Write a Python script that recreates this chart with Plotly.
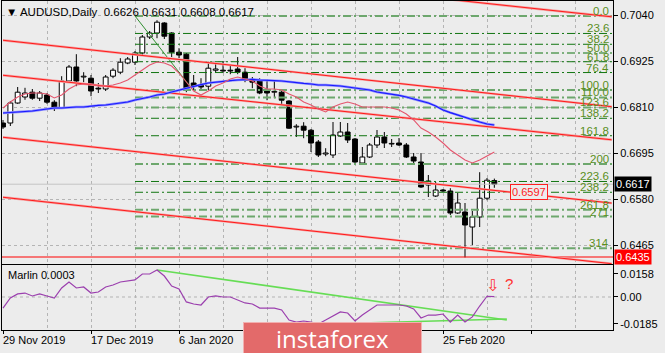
import plotly.graph_objects as go

# ---------------- data ----------------
tick_idx = [0, 12, 24, 60]
tick_labels = ["29 Nov 2019", "17 Dec 2019", "6 Jan 2020", "25 Feb 2020"]
grid_tick_idx = [0, 12, 24, 36, 48, 60, 72]

opens = [0.6770, 0.6770, 0.6820, 0.6835, 0.6847, 0.6832, 0.6840, 0.6822, 0.6807, 0.6875,
         0.6910, 0.6885, 0.6882, 0.6857, 0.6855, 0.6887, 0.6897, 0.6920, 0.6922, 0.6945,
         0.6985, 0.6995, 0.7020, 0.6995, 0.6947, 0.6942, 0.6870, 0.6865, 0.6862, 0.6902,
         0.6902, 0.6902, 0.6905, 0.6897, 0.6877, 0.6875, 0.6850, 0.6847, 0.6847, 0.6825,
         0.6760, 0.6762, 0.6752, 0.67225, 0.66925, 0.6690, 0.67375, 0.67475, 0.6730, 0.6670,
         0.6685, 0.6715, 0.6735, 0.67175, 0.6720, 0.6715, 0.6685, 0.66725, 0.6615, 0.65875,
         0.66025, 0.6600, 0.6545, 0.65475, 0.6510, 0.6535, 0.6582, 0.6626]
highs = [0.67775, 0.6825, 0.6860, 0.6858, 0.6855, 0.6850, 0.6845, 0.6827, 0.6887, 0.6915,
         0.6942, 0.6897, 0.6890, 0.6870, 0.6890, 0.6907, 0.6932, 0.6935, 0.6950, 0.6990,
         0.7000, 0.7027, 0.7022, 0.6997, 0.6957, 0.6945, 0.6890, 0.6882, 0.6920, 0.6920,
         0.6925, 0.6917, 0.6935, 0.6907, 0.6885, 0.6882, 0.6877, 0.6877, 0.6852, 0.6827,
         0.6767, 0.6772, 0.6755, 0.67275, 0.6707, 0.67725, 0.67725, 0.6770, 0.67325, 0.6710,
         0.6720, 0.67525, 0.67475, 0.6730, 0.67325, 0.6720, 0.6695, 0.6695, 0.6640, 0.66225,
         0.6605, 0.6607, 0.6595, 0.6570, 0.6550, 0.6647, 0.66325, 0.6631]
lows = [0.6755, 0.67625, 0.6818, 0.6828, 0.6828, 0.6825, 0.6818, 0.6800, 0.6805, 0.6870,
        0.6862, 0.6872, 0.6837, 0.6845, 0.6850, 0.6882, 0.6892, 0.6917, 0.6915, 0.6940,
        0.6980, 0.6982, 0.6980, 0.6935, 0.6932, 0.6847, 0.6852, 0.6852, 0.6852, 0.6895,
        0.6895, 0.6892, 0.6892, 0.6872, 0.6857, 0.6842, 0.6827, 0.6832, 0.6817, 0.6755,
        0.6735, 0.6732, 0.66975, 0.6685, 0.6687, 0.66825, 0.6735, 0.6720, 0.6665, 0.66675,
        0.66825, 0.67075, 0.67075, 0.6710, 0.67125, 0.66825, 0.6670, 0.66075, 0.6585, 0.6585,
        0.65975, 0.6540, 0.65425, 0.6434, 0.6465, 0.6510, 0.6577, 0.6608]
closes = [0.6760, 0.6820, 0.6847, 0.6845, 0.6832, 0.6845, 0.6822, 0.6807, 0.6875, 0.6910,
          0.6875, 0.6887, 0.6850, 0.6855, 0.6885, 0.6902, 0.6922, 0.6930, 0.6945, 0.6985,
          0.6995, 0.7022, 0.6987, 0.6947, 0.6940, 0.6855, 0.6862, 0.6860, 0.6907, 0.6905,
          0.6900, 0.6900, 0.6897, 0.6877, 0.6872, 0.6845, 0.6845, 0.6849, 0.6827, 0.6757,
          0.6762, 0.6752, 0.6720, 0.6690, 0.6695, 0.6740, 0.67475, 0.67275, 0.66725, 0.6685,
          0.6715, 0.6735, 0.6720, 0.6719, 0.6715, 0.6685, 0.6675, 0.6610, 0.6625, 0.66025,
          0.6600, 0.6545, 0.6570, 0.6515, 0.6535, 0.6582, 0.6627, 0.6617]

ma_fast = [0.68075, 0.68225, 0.68350, 0.68425, 0.68450, 0.68450, 0.68425, 0.68325, 0.68400, 0.68550,
           0.68650, 0.68675, 0.68675, 0.68625, 0.68625, 0.68650, 0.68700, 0.68775, 0.68900, 0.69025,
           0.69150, 0.69225, 0.69200, 0.69125, 0.68950, 0.68725, 0.68500, 0.68400, 0.68500, 0.68625,
           0.68700, 0.68800, 0.68850, 0.68800, 0.68750, 0.68625, 0.68550, 0.68550, 0.68525, 0.68425,
           0.68350, 0.68225, 0.68150, 0.68050, 0.67975, 0.68100, 0.68175, 0.68225, 0.68175, 0.68100,
           0.68100, 0.68100, 0.68100, 0.68075, 0.68025, 0.67925, 0.67775, 0.67575, 0.67475, 0.67350,
           0.67200, 0.67025, 0.66900, 0.66775, 0.66700, 0.66775, 0.66875, 0.66975]
ma_slow = [0.6795, 0.6796, 0.67975, 0.6799, 0.6800, 0.68025, 0.6805, 0.68075, 0.68075, 0.6809,
           0.6810, 0.6810, 0.68125, 0.6814, 0.6815, 0.68175, 0.6820, 0.68225, 0.68275, 0.6831,
           0.6835, 0.6840, 0.68425, 0.68475, 0.68525, 0.68575, 0.68625, 0.6866, 0.6870, 0.68725,
           0.6875, 0.6876, 0.68775, 0.6879, 0.6879, 0.68775, 0.68775, 0.6876, 0.6875, 0.68725,
           0.6870, 0.6869, 0.68675, 0.6865, 0.6865, 0.6864, 0.68625, 0.6860, 0.68575, 0.6855,
           0.68525, 0.68475, 0.6845, 0.68425, 0.6839, 0.6835, 0.6830, 0.6825, 0.6820, 0.68125,
           0.68025, 0.6796, 0.6790, 0.6784, 0.67775, 0.67725, 0.67675, 0.6765]
marlin = [-0.0076, -0.0007, 0.0021, 0.0027, 0.0007, 0.0021, 0.0007, -0.0007, 0.0062, 0.0103,
          0.0062, 0.0069, 0.0027, 0.0034, 0.0069, 0.0082, 0.0103, 0.0110, 0.0117, 0.0158,
          0.0158, 0.0185, 0.0144, 0.0075, 0.0055, -0.0034, -0.0048, -0.0055, 0.0000, 0.0007,
          0.0000, 0.0000, -0.0021, -0.0041, -0.0048, -0.0076, -0.0076, -0.0076, -0.0089, -0.0158,
          -0.0172, -0.0165, -0.0172, -0.0185, -0.0158, -0.0131, -0.0103, -0.0110, -0.0165, -0.0124,
          -0.0089, -0.0055, -0.0055, -0.0055, -0.0055, -0.0062, -0.0082, -0.0144, -0.0124, -0.0124,
          -0.0117, -0.0172, -0.0124, -0.0172, -0.0137, -0.0062, 0.0005, 0.0003]

price_ticks = [0.7040, 0.6925, 0.6810, 0.6695, 0.6580, 0.6465]
price_tick_labels = ["0.7040", "0.6925", "0.6810", "0.6695", "0.6580", "0.6465"]
marlin_ticks = [0.0158, 0.0, -0.0185]
marlin_tick_labels = ["0.0158", "0.00", "-0.0185"]

fib_levels = [0.0, 23.6, 38.2, 50.0, 61.8, 76.4, 100.0, 110.0, 123.6, 138.2,
              161.8, 200.0, 223.6, 238.2, 261.8, 271.0, 314.0, 338.2]
fib_labels = ["0.0", "23.6", "38.2", "50.0", "61.8", "76.4", "100.0", "110.0", "123.6", "138.2",
              "161.8", "200", "223.6", "238.2", "261.8", "271", "314", "338.2"]
fib_light = {0.0, 100.0, 110.0, 123.6, 200.0, 261.8, 271.0, 314.0, 338.2}
fib_top = 0.70375
fib_bottom = 0.68525
fib_start = 18
fib_diag_x = [18, 25.9]

channel_x = [0, 83]
channels = [[0.71983, 0.70355], [0.69768, 0.68108], [0.68893, 0.67280],
            [0.67343, 0.65698], [0.65843, 0.64183]]

last_price = 0.6617
low_price = 0.6435
channel_label_price = 0.6597

marlin_up_x = [21, 68.7]
marlin_up_y = [0.01855, -0.0158]
marlin_lo_x = [44, 68.7]
marlin_lo_y = [-0.01855, -0.01511]

# ---------------- figure ----------------
FONT = "Liberation Sans"
n = len(opens)
xr = [-0.136, 83.18]
gc = "#b4b4b4"

fig = go.Figure()

wx, wy = [], []
for i in range(n):
    top = max(opens[i], closes[i])
    bot = min(opens[i], closes[i])
    wx += [i, i, None, i, i, None]
    wy += [highs[i], top, None, bot, lows[i], None]

fig.add_trace(go.Bar(
    x=list(range(n)),
    y=[max(abs(closes[i] - opens[i]), 0.00008) for i in range(n)],
    base=[min(opens[i], closes[i]) for i in range(n)],
    width=0.66,
    marker=dict(color=["white" if closes[i] >= opens[i] else "black" for i in range(n)],
                line=dict(color="black", width=1)),
    hoverinfo="skip", xaxis="x", yaxis="y"))
fig.add_trace(go.Scatter(x=wx, y=wy, mode="lines", line=dict(color="black", width=1),
                         hoverinfo="skip", xaxis="x", yaxis="y"))

# fib levels
fib_range = fib_top - fib_bottom
for lv in fib_levels:
    p = fib_top - lv / 100.0 * fib_range
    light = lv in fib_light
    fig.add_trace(go.Scatter(
        x=[fib_start, xr[1] + 1], y=[p, p], mode="lines",
        line=dict(color="#6da76d" if light else "#117511", width=2 if light else 1,
                  dash="8px,3px,2px,3px"),
        hoverinfo="skip", xaxis="x", yaxis="y"))
fig.add_trace(go.Scatter(x=fib_diag_x, y=[fib_top, fib_bottom], mode="lines",
                         line=dict(color="#2f8f2f", width=1), hoverinfo="skip"))

# current price line & low line
fig.add_trace(go.Scatter(x=[xr[0] - 1, xr[1] + 1], y=[last_price, last_price], mode="lines",
                         line=dict(color="#c4c4c4", width=1), hoverinfo="skip"))
fig.add_trace(go.Scatter(x=[xr[0] - 1, xr[1] + 1], y=[low_price, low_price], mode="lines",
                         line=dict(color="#ff0000", width=1), hoverinfo="skip"))

# channels
for ch in channels:
    fig.add_trace(go.Scatter(x=channel_x, y=ch, mode="lines",
                             line=dict(color="#f6a3a3", width=2.4), hoverinfo="skip"))
    fig.add_trace(go.Scatter(x=channel_x, y=ch, mode="lines",
                             line=dict(color="#ff1a1a", width=1), hoverinfo="skip"))

# moving averages
fig.add_trace(go.Scatter(x=list(range(n)), y=ma_slow, mode="lines",
                         line=dict(color="#8c8cff", width=2.4), hoverinfo="skip"))
fig.add_trace(go.Scatter(x=list(range(n)), y=ma_slow, mode="lines",
                         line=dict(color="#1a1aff", width=1.2), hoverinfo="skip"))
fig.add_trace(go.Scatter(x=list(range(n)), y=ma_fast, mode="lines",
                         line=dict(color="#e4566e", width=1.1), hoverinfo="skip"))

# indicator
fig.add_trace(go.Scatter(x=marlin_up_x, y=marlin_up_y, mode="lines",
                         line=dict(color="#66dd55", width=1.6), hoverinfo="skip",
                         xaxis="x2", yaxis="y2"))
fig.add_trace(go.Scatter(x=marlin_lo_x, y=marlin_lo_y, mode="lines",
                         line=dict(color="#66dd55", width=1.6), hoverinfo="skip",
                         xaxis="x2", yaxis="y2"))
fig.add_trace(go.Scatter(x=list(range(n)), y=marlin, mode="lines",
                         line=dict(color="#9b3fae", width=1.2), hoverinfo="skip",
                         xaxis="x2", yaxis="y2"))

axfont = dict(family=FONT, size=11, color="black")
fig.update_layout(
    width=665, height=353,
    margin=dict(l=2, r=52, t=1, b=23),
    paper_bgcolor="#ececec", plot_bgcolor="#ececec",
    showlegend=False, barmode="overlay",
    font=axfont,
    xaxis=dict(domain=[0, 1], range=xr, anchor="y", showgrid=True, tick0=0, dtick=6,
               gridcolor=gc, griddash="dot", showticklabels=False, ticks="",
               showline=True, linecolor="black", mirror=True, zeroline=False, fixedrange=True),
    xaxis2=dict(domain=[0, 1], range=xr, anchor="y2", matches="x", showgrid=True,
                tickvals=grid_tick_idx, ticks="outside", ticklen=3, tickcolor="black",
                showticklabels=False, gridcolor=gc, griddash="dot",
                minor=dict(tick0=0, dtick=6, showgrid=True, gridcolor=gc, griddash="dot"),
                showline=True, linecolor="black", mirror=True, zeroline=False),
    yaxis=dict(domain=[0.2006, 1], range=[0.64175, 0.7075], anchor="x", side="right",
               tickvals=price_ticks, ticktext=price_tick_labels, ticks="outside", ticklen=4,
               tickcolor="black", tickfont=axfont, showgrid=True, gridcolor=gc, griddash="dot",
               showline=True, linecolor="black", mirror=True, zeroline=False),
    yaxis2=dict(domain=[0, 0.1976], range=[-0.02267, 0.02198], anchor="x2", side="right",
                tickvals=marlin_ticks, ticktext=marlin_tick_labels, ticks="outside", ticklen=4,
                tickcolor="black", tickfont=axfont, showgrid=False,
                showline=True, linecolor="black", mirror=True, zeroline=False),
)

fig.add_shape(type="line", xref="paper", x0=0, x1=1, yref="y2", y0=0, y1=0,
              line=dict(color=gc, width=1, dash="dot"), layer="below")

ann = []
ann.append(dict(text="▼ AUDUSD,Daily  0.6626 0.6631 0.6608 0.6617", xref="paper", yref="paper",
                x=0.004, y=0.99, xanchor="left", yanchor="top", showarrow=False,
                font=dict(family=FONT, size=11.5, color="black")))
ann.append(dict(text="Marlin 0.0003", xref="paper", yref="paper", x=0.007, y=0.193,
                xanchor="left", yanchor="top", showarrow=False, font=axfont))
for lv, lab in zip(fib_levels, fib_labels):
    p = fib_top - lv / 100.0 * fib_range
    ann.append(dict(text=lab, xref="paper", yref="y", x=0.9975, y=p, xanchor="right",
                    yanchor="bottom", yshift=-3, showarrow=False,
                    font=dict(family=FONT, size=11.5, color="#5a8f1c")))
ann.append(dict(text="0.6617", xref="paper", yref="y", x=1.002, y=last_price, xanchor="left",
                yanchor="middle", showarrow=False, bgcolor="black", borderpad=1,
                font=dict(family=FONT, size=11, color="white")))
ann.append(dict(text="0.6435", xref="paper", yref="y", x=1.002, y=low_price, xanchor="left",
                yanchor="middle", showarrow=False, bgcolor="#ff0000", borderpad=1,
                font=dict(family=FONT, size=11, color="white")))
ann.append(dict(text="0.6597", xref="x", yref="y", x=69.1, y=channel_label_price, xanchor="left",
                yanchor="middle", showarrow=False, bgcolor="#ececec", bordercolor="#ff2020",
                borderwidth=1, borderpad=1, font=dict(family=FONT, size=11, color="#ff2020")))
ann.append(dict(text="⇩", xref="x2", yref="y2", x=66.7, y=0.0080, showarrow=False,
                font=dict(family="DejaVu Sans", size=16, color="#ff3030")))
ann.append(dict(text="?", xref="x2", yref="y2", x=69.0, y=0.0096, showarrow=False,
                font=dict(family=FONT, size=15, color="#ff3030")))
for t, lab in zip(tick_idx, tick_labels):
    ann.append(dict(text=lab, xref="x", yref="paper", x=t, y=-0.006, xanchor="left",
                    yanchor="top", xshift=-2, showarrow=False, font=axfont))
ann.append(dict(text="instaforex", xref="paper", yref="paper", x=0.5409, y=-0.0228,
                xanchor="center", yanchor="middle", showarrow=False, width=177, height=30,
                bgcolor="#e36a6a", bordercolor="#f2b0b0", borderwidth=1, borderpad=0,
                font=dict(family="Open Sans", size=24, color="white")))
fig.update_layout(annotations=ann)

fig.write_html("out.html")
